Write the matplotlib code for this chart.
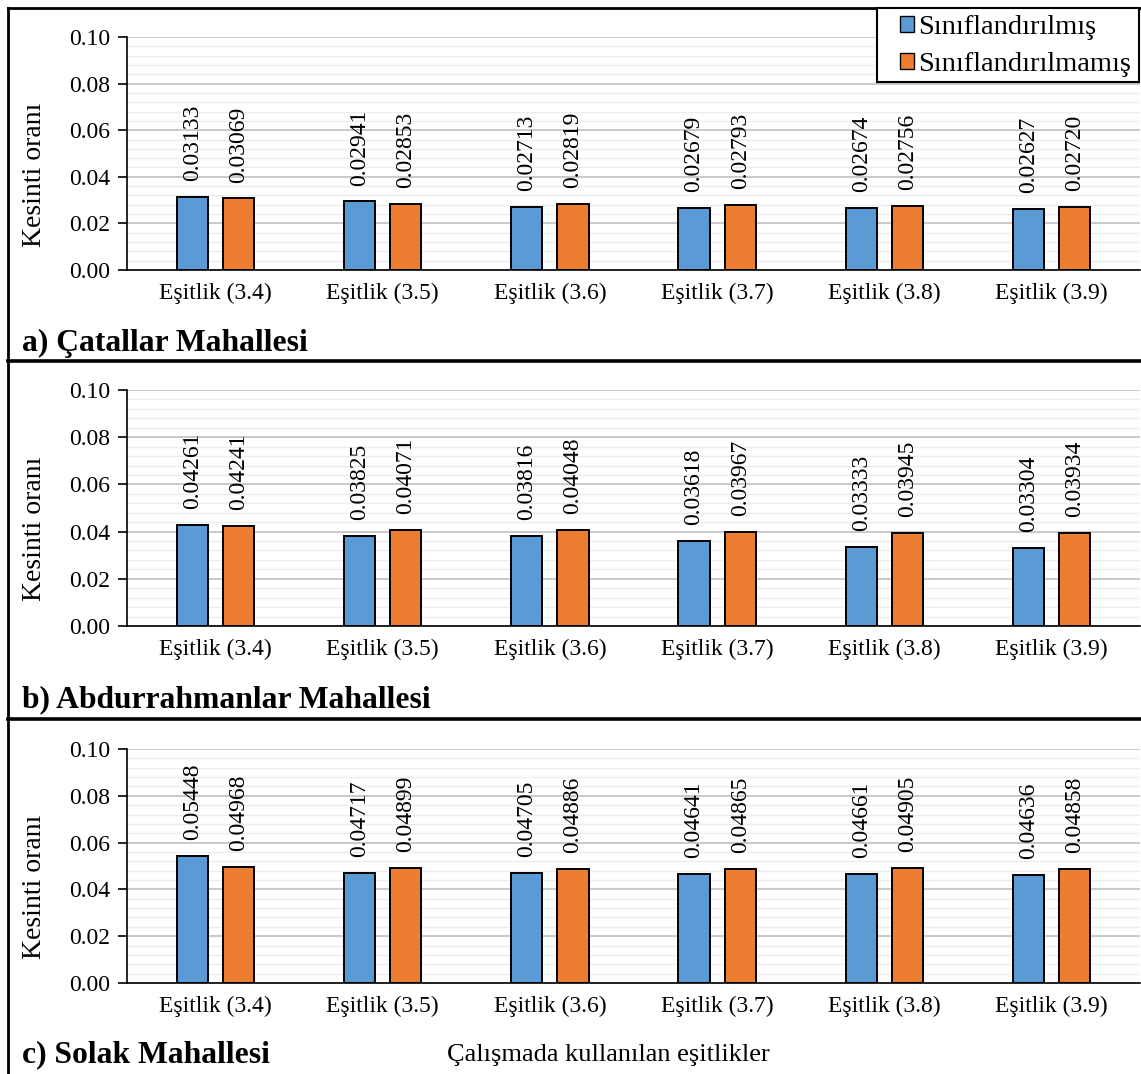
import matplotlib
matplotlib.use("Agg")
import matplotlib.pyplot as plt
from matplotlib.lines import Line2D
from matplotlib.patches import Patch, Rectangle
import numpy as np

plt.rcParams['font.family'] = ['Liberation Serif', 'DejaVu Serif']

categories = ["Eşitlik (3.4)", "Eşitlik (3.5)", "Eşitlik (3.6)",
              "Eşitlik (3.7)", "Eşitlik (3.8)", "Eşitlik (3.9)"]

catallar_sinif = [0.03133, 0.02941, 0.02713, 0.02679, 0.02674, 0.02627]
catallar_sinifsiz = [0.03069, 0.02853, 0.02819, 0.02793, 0.02756, 0.02720]

abdurrahmanlar_sinif = [0.04261, 0.03825, 0.03816, 0.03618, 0.03333, 0.03304]
abdurrahmanlar_sinifsiz = [0.04241, 0.04071, 0.04048, 0.03967, 0.03945, 0.03934]

solak_sinif = [0.05448, 0.04717, 0.04705, 0.04641, 0.04661, 0.04636]
solak_sinifsiz = [0.04968, 0.04899, 0.04886, 0.04865, 0.04905, 0.04858]

panel_titles = ["a) Çatallar Mahallesi", "b) Abdurrahmanlar Mahallesi",
                "c) Solak Mahallesi"]
series_names = ["Sınıflandırılmış", "Sınıflandırılmamış"]
y_label = "Kesinti oranı"
x_label = "Çalışmada kullanılan eşitlikler"

BLUE = "#5B9BD5"
ORANGE = "#ED7D31"

W, H = 1141, 1074
fig = plt.figure(figsize=(W / 100, H / 100), dpi=100)


def px_axes(left, top, right, bottom):
    return fig.add_axes([left / W, 1 - bottom / H, (right - left) / W, (bottom - top) / H])


panels = [
    (catallar_sinif, catallar_sinifsiz, 37, 270, 343),
    (abdurrahmanlar_sinif, abdurrahmanlar_sinifsiz, 390, 626, 700),
    (solak_sinif, solak_sinifsiz, 749, 983, 1055),
]

x = np.arange(len(categories))
bw = 0.186
off = 0.138

for i, (s1, s2, top, bottom, title_y) in enumerate(panels):
    ax = px_axes(127, top, 1140, bottom)
    ax.set_xlim(-0.53, 5.53)
    ax.set_ylim(0, 0.10)
    ax.set_yticks(np.arange(0, 0.1001, 0.02))
    ax.set_yticks(np.arange(0, 0.1001, 0.004), minor=True)
    ax.yaxis.set_major_formatter(matplotlib.ticker.FormatStrFormatter("%.2f"))
    ax.grid(axis='y', which='major', color='#c0c0c0', lw=1.2, zorder=0)
    ax.grid(axis='y', which='minor', color='#ededed', lw=1.0, zorder=0)
    ax.set_axisbelow(True)
    for sp in ['top', 'right']:
        ax.spines[sp].set_visible(False)
    ax.spines['left'].set_linewidth(1.2)
    ax.spines['bottom'].set_linewidth(1.2)
    ax.tick_params(axis='y', which='major', length=6.5, width=1.2, pad=5.5,
                   labelsize=17, direction='out')
    ax.tick_params(axis='y', which='minor', length=0)
    ax.tick_params(axis='x', length=0, pad=9, labelsize=17)
    ax.set_xticks(x)
    ax.set_xticklabels(categories)
    ax.set_ylabel(y_label, fontsize=20)
    ax.yaxis.set_label_coords(-(127 - 47) / 1013, 0.5 - 21 / (bottom - top))

    b1 = ax.bar(x - off, s1, bw, color=BLUE, edgecolor='black', lw=1.4, zorder=3)
    b2 = ax.bar(x + off, s2, bw, color=ORANGE, edgecolor='black', lw=1.4, zorder=3)
    for bars, vals in ((b1, s1), (b2, s2)):
        for rect, v in zip(bars, vals):
            ax.annotate(f"{v:.5f}", (rect.get_x() + rect.get_width() / 2, v),
                        xytext=(0, 11.5), textcoords='offset points',
                        rotation=90, ha='center', va='bottom', fontsize=17)

    fig.text(22 / W, 1 - title_y / H, panel_titles[i], fontsize=22.8,
             fontweight='bold', ha='left', va='center')

fig.text(608 / W, 1 - 1055 / H, x_label, fontsize=19, ha='center', va='center')

# outer frame and panel separators
lw = 2.0
fig.add_artist(Line2D([8 / W, 8 / W], [0, 1 - 8 / H], color='black', lw=lw))
fig.add_artist(Line2D([8 / W, 1], [1 - 8 / H, 1 - 8 / H], color='black', lw=lw))
for yy in (361, 719):
    fig.add_artist(Line2D([8 / W, 1], [1 - yy / H, 1 - yy / H], color='black', lw=2.6))

# legend box drawn separately so the padding around the entries can be wider
fig.add_artist(Rectangle((877 / W, 1 - 82 / H), (1139 - 877) / W, 74 / H,
                         transform=fig.transFigure, facecolor='white',
                         edgecolor='black', lw=1.5, zorder=5))
handles = [Patch(facecolor=BLUE, edgecolor='black', lw=1.0),
           Patch(facecolor=ORANGE, edgecolor='black', lw=1.0)]
leg = fig.legend(handles, series_names, loc='center left',
                 bbox_to_anchor=(900 / W, 1 - 46 / H), fontsize=20.5,
                 frameon=False, handlelength=0.5, handleheight=0.5,
                 handletextpad=0.15, borderpad=0, labelspacing=0.42,
                 borderaxespad=0)
leg.set_zorder(6)

fig.savefig("out.png", dpi=100)
